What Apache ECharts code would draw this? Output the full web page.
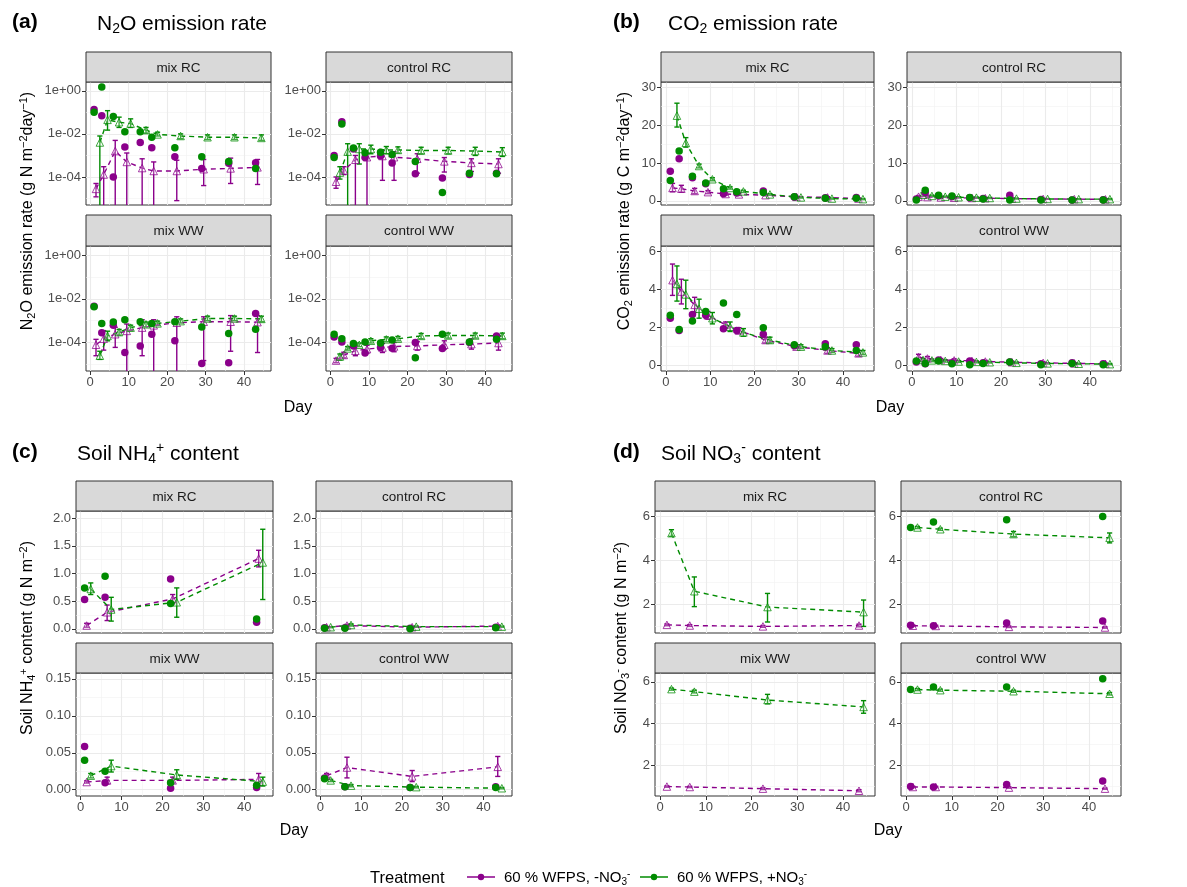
<!DOCTYPE html>
<html><head><meta charset="utf-8">
<script src="https://cdn.jsdelivr.net/npm/echarts@6/dist/echarts.min.js"></script>
<style>html,body{margin:0;padding:0;background:#fff}#chart{width:1187px;height:887px}</style>
</head><body><div id="chart"></div>
<script>
// ================= DATA =================
const flux_days_circle = [1, 3, 6, 9, 13, 16, 22, 29, 36, 43];
const flux_days_minus  = [1.5, 3.5, 6.5, 9.5, 13.5, 16.5, 22.5, 29.5, 36.5, 43.5];
const flux_days_plus   = [2.5, 4.5, 7.5, 10.5, 14.5, 17.5, 23.5, 30.5, 37.5, 44.5];
const soil_days_circle = [1, 6, 22, 43];
const soil_days_minus  = [1.5, 6.5, 22.5, 43.5];
const soil_days_plus   = [2.5, 7.5, 23.5, 44.5];
const x_tick_values = [0, 10, 20, 30, 40];
const x_minor_values = [5, 15, 25, 35, 45];
const facet_names = ['mix RC', 'control RC', 'mix WW', 'control WW'];
const treatment_names = ['60 % WFPS, -NO3-', '60 % WFPS, +NO3-'];

// ---- (a) N2O emission rate, g N m-2 day-1 (0 = lower bound not positive) ----
const n2o_mixRC_circleMinus = [0.137, 0.07, 1.0e-4, 2.5e-3, 4.0e-3, 2.3e-3, 8.7e-4, 2.5e-4, 4.4e-4, 4.6e-4];
const n2o_mixRC_circlePlus  = [0.10, 1.5, 0.065, 0.0126, 0.0126, 7e-3, 2.3e-3, 8.7e-4, 5.3e-4, 2.5e-4];
const n2o_mixRC_meanMinus = [2.8e-5, 1.3e-4, 1.6e-3, 5e-4, 2.6e-4, 1.9e-4, 1.9e-4, 2.3e-4, 2.5e-4, 2.8e-4];
const n2o_mixRC_lowMinus  = [1.2e-5, 0, 0, 0, 0, 0, 8e-6, 4e-5, 5e-5, 4.5e-5];
const n2o_mixRC_highMinus = [5e-5, 3e-4, 5e-3, 1.3e-3, 7e-4, 5e-4, 6e-4, 6.5e-4, 7.5e-4, 6.5e-4];
const n2o_mixRC_meanPlus  = [4e-3, 0.045, 0.035, 0.03, 0.015, 0.0095, 0.008, 0.007, 0.007, 0.0065];
const n2o_mixRC_lowPlus   = [0, 0.015, 0.02, 0.02, 0.011, 0.008, 0.006, 0.0055, 0.0055, 0.005];
const n2o_mixRC_highPlus  = [8e-3, 0.12, 0.06, 0.05, 0.02, 0.012, 0.010, 0.009, 0.009, 0.009];

const n2o_controlRC_circleMinus = [1e-3, 0.037, 2e-3, 8e-4, 9.4e-4, 4.5e-4, 1.4e-4, 9e-5, 1.3e-4, 1.5e-4];
const n2o_controlRC_circlePlus  = [8e-4, 0.029, 2.2e-3, 1.35e-3, 1.4e-3, 1.1e-3, 5.3e-4, 1.9e-5, 1.5e-4, 1.4e-4];
const n2o_controlRC_meanMinus = [6e-5, 2e-4, 6.3e-4, 8.3e-4, 9.4e-4, 8.3e-4, 7e-4, 5.3e-4, 4.5e-4, 4e-4];
const n2o_controlRC_lowMinus  = [3e-5, 1.3e-4, 0, 0, 7e-5, 7e-5, 1.5e-4, 1.7e-4, 1.8e-4, 1.5e-4];
const n2o_controlRC_highMinus = [1e-4, 3e-4, 1.0e-3, 1.2e-3, 1.7e-3, 1.5e-3, 1.2e-3, 8e-4, 7e-4, 7e-4];
const n2o_controlRC_meanPlus  = [1.6e-4, 1.5e-3, 2e-3, 2e-3, 1.8e-3, 1.8e-3, 1.7e-3, 1.7e-3, 1.6e-3, 1.45e-3];
const n2o_controlRC_lowPlus   = [8e-5, 0, 4e-4, 1.2e-3, 1.2e-3, 1.3e-3, 1.2e-3, 1.2e-3, 1.0e-3, 9e-4];
const n2o_controlRC_highPlus  = [3e-4, 3.5e-3, 3.5e-3, 3e-3, 2.6e-3, 2.5e-3, 2.4e-3, 2.4e-3, 2.4e-3, 2.3e-3];

const n2o_mixWW_circleMinus = [4.5e-3, 2.8e-4, 6.1e-4, 3.5e-5, 7e-5, 2.4e-4, 1.2e-4, 1.1e-5, 1.2e-5, 2.1e-3];
const n2o_mixWW_circlePlus  = [4.3e-3, 7.5e-4, 8.7e-4, 1.1e-3, 8.9e-4, 7.5e-4, 8.9e-4, 5.1e-4, 2.6e-4, 4e-4];
const n2o_mixWW_meanMinus = [7.9e-5, 1.5e-4, 2.4e-4, 3.4e-4, 4.8e-4, 6.1e-4, 8e-4, 8.9e-4, 8.9e-4, 8.5e-4];
const n2o_mixWW_lowMinus  = [2.5e-5, 4.5e-5, 6e-5, 0, 2.5e-5, 0, 0, 1.5e-5, 4e-5, 3.5e-5];
const n2o_mixWW_highMinus = [1.4e-4, 3.5e-4, 5e-4, 7e-4, 1.1e-3, 1.1e-3, 1.5e-3, 1.5e-3, 1.7e-3, 1.7e-3];
const n2o_mixWW_meanPlus  = [2.5e-5, 2e-4, 3e-4, 4.8e-4, 6.8e-4, 7.5e-4, 9.5e-4, 1.26e-3, 1.26e-3, 1.2e-3];
const n2o_mixWW_lowPlus   = [1.7e-5, 1.2e-4, 2.2e-4, 3.5e-4, 5.2e-4, 6e-4, 7.8e-4, 1.0e-3, 1.0e-3, 9e-4];
const n2o_mixWW_highPlus  = [4e-5, 3.3e-4, 4e-4, 6.2e-4, 8.6e-4, 9.5e-4, 1.2e-3, 1.6e-3, 1.6e-3, 1.6e-3];

const n2o_controlWW_circleMinus = [1.8e-4, 1.07e-4, 7e-5, 3.3e-5, 5.9e-5, 5.5e-5, 1e-4, 5.4e-5, 1e-4, 2e-4];
const n2o_controlWW_circlePlus  = [2.4e-4, 1.5e-4, 9e-5, 1.07e-4, 9.5e-5, 1.3e-4, 2e-5, 2.4e-4, 1.07e-4, 1.4e-4];
const n2o_controlWW_meanMinus = [1.5e-5, 2.7e-5, 4.2e-5, 5e-5, 5.9e-5, 6.6e-5, 7e-5, 7.9e-5, 8.5e-5, 9.5e-5];
const n2o_controlWW_lowMinus  = [1.2e-5, 2e-5, 2.5e-5, 3.3e-5, 3.5e-5, 3.8e-5, 4.5e-5, 5e-5, 5e-5, 4.5e-5];
const n2o_controlWW_highMinus = [1.9e-5, 3.6e-5, 6.5e-5, 7.5e-5, 9e-5, 1e-4, 1.1e-4, 1.2e-4, 1.5e-4, 1.9e-4];
const n2o_controlWW_meanPlus  = [2.3e-5, 5.4e-5, 7.9e-5, 1.2e-4, 1.4e-4, 1.5e-4, 2e-4, 2.1e-4, 2.1e-4, 2e-4];
const n2o_controlWW_lowPlus   = [1.6e-5, 4.5e-5, 6.5e-5, 9.5e-5, 1.1e-4, 1.2e-4, 1.5e-4, 1.6e-4, 1.6e-4, 1.5e-4];
const n2o_controlWW_highPlus  = [3e-5, 6.5e-5, 9.5e-5, 1.5e-4, 1.8e-4, 1.9e-4, 2.6e-4, 2.7e-4, 2.7e-4, 2.7e-4];

// ---- (b) CO2 emission rate, g C m-2 day-1 ----
const co2_mixRC_circleMinus = [7.8, 11.1, 6.1, 4.5, 1.9, 2.1, 2.6, 1.0, 0.8, 0.85];
const co2_mixRC_circlePlus  = [5.4, 13.2, 6.5, 4.7, 3.2, 2.4, 2.2, 1.05, 0.7, 0.7];
const co2_mixRC_meanMinus = [3.4, 3.2, 2.6, 2.3, 1.8, 1.7, 1.5, 1.05, 0.9, 0.6];
const co2_mixRC_lowMinus  = [2.4, 2.3, 1.9, 1.9, 1.5, 1.4, 1.3, 0.9, 0.7, 0.45];
const co2_mixRC_highMinus = [4.6, 4.1, 3.3, 2.7, 2.1, 2.0, 1.7, 1.2, 1.1, 0.75];
const co2_mixRC_meanPlus  = [22.5, 15.3, 9.2, 5.7, 3.4, 2.5, 1.7, 0.9, 0.6, 0.45];
const co2_mixRC_lowPlus   = [19.5, 14.2, 8.7, 5.3, 3.1, 2.2, 1.5, 0.75, 0.45, 0.3];
const co2_mixRC_highPlus  = [25.8, 16.7, 9.7, 6.1, 3.7, 2.8, 1.9, 1.05, 0.75, 0.6];

const co2_controlRC_circleMinus = [0.5, 2.2, 1.3, 1.05, 0.8, 0.6, 1.5, 0.35, 0.25, 0.3];
const co2_controlRC_circlePlus  = [0.2, 2.8, 1.5, 1.3, 0.9, 0.5, 0.2, 0.2, 0.2, 0.2];
const co2_controlRC_meanMinus = [1.1, 1.0, 0.9, 0.8, 0.75, 0.7, 0.6, 0.5, 0.45, 0.4];
const co2_controlRC_lowMinus  = [0.8, 0.75, 0.7, 0.65, 0.6, 0.55, 0.45, 0.4, 0.35, 0.3];
const co2_controlRC_highMinus = [1.4, 1.25, 1.1, 0.95, 0.9, 0.85, 0.75, 0.6, 0.55, 0.5];
const co2_controlRC_meanPlus  = [1.6, 1.3, 1.1, 0.95, 0.85, 0.75, 0.6, 0.5, 0.45, 0.45];
const co2_controlRC_lowPlus   = [1.2, 1.1, 0.95, 0.8, 0.7, 0.6, 0.5, 0.4, 0.35, 0.3];
const co2_controlRC_highPlus  = [2.1, 1.5, 1.25, 1.1, 1.0, 0.9, 0.7, 0.6, 0.55, 0.6];

const co2_mixWW_circleMinus = [2.5, 1.85, 2.7, 2.65, 1.95, 1.85, 1.65, 1.05, 1.15, 1.1];
const co2_mixWW_circlePlus  = [2.65, 1.9, 2.35, 2.85, 3.3, 2.7, 2.0, 1.1, 1.0, 0.8];
const co2_mixWW_meanMinus = [4.5, 3.9, 3.2, 2.65, 2.15, 1.85, 1.35, 1.0, 0.8, 0.65];
const co2_mixWW_lowMinus  = [3.7, 3.25, 2.8, 2.45, 2.0, 1.7, 1.2, 0.9, 0.65, 0.5];
const co2_mixWW_highMinus = [5.35, 4.55, 3.6, 2.85, 2.3, 2.0, 1.5, 1.1, 0.95, 0.8];
const co2_mixWW_meanPlus  = [4.3, 3.75, 3.0, 2.5, 2.05, 1.75, 1.35, 1.0, 0.8, 0.7];
const co2_mixWW_lowPlus   = [3.4, 3.0, 2.5, 2.2, 1.8, 1.55, 1.2, 0.9, 0.7, 0.6];
const co2_mixWW_highPlus  = [5.25, 4.5, 3.5, 2.8, 2.3, 1.95, 1.5, 1.1, 0.9, 0.8];

const co2_controlWW_circleMinus = [0.2, 0.1, 0.3, 0.15, 0.25, 0.15, 0.2, 0.1, 0.15, 0.1];
const co2_controlWW_circlePlus  = [0.25, 0.12, 0.25, 0.1, 0.05, 0.12, 0.2, 0.05, 0.12, 0.05];
const co2_controlWW_meanMinus = [0.45, 0.38, 0.3, 0.28, 0.25, 0.22, 0.18, 0.15, 0.12, 0.1];
const co2_controlWW_lowMinus  = [0.3, 0.28, 0.22, 0.2, 0.18, 0.16, 0.13, 0.1, 0.08, 0.06];
const co2_controlWW_highMinus = [0.6, 0.48, 0.38, 0.36, 0.32, 0.28, 0.23, 0.2, 0.16, 0.14];
const co2_controlWW_meanPlus  = [0.3, 0.28, 0.25, 0.22, 0.2, 0.18, 0.15, 0.12, 0.1, 0.08];
const co2_controlWW_lowPlus   = [0.22, 0.21, 0.19, 0.17, 0.15, 0.14, 0.11, 0.09, 0.07, 0.05];
const co2_controlWW_highPlus  = [0.38, 0.35, 0.31, 0.27, 0.25, 0.22, 0.19, 0.15, 0.13, 0.11];

// ---- (c) Soil NH4+ content, g N m-2 ----
const nh4_mixRC_circleMinus = [0.53, 0.57, 0.9, 0.12];
const nh4_mixRC_circlePlus  = [0.74, 0.95, 0.46, 0.18];
const nh4_mixRC_meanMinus = [0.06, 0.3, 0.54, 1.27];
const nh4_mixRC_lowMinus  = [0.03, 0.15, 0.45, 1.12];
const nh4_mixRC_highMinus = [0.1, 0.43, 0.62, 1.42];
const nh4_mixRC_meanPlus  = [0.72, 0.35, 0.48, 1.2];
const nh4_mixRC_lowPlus   = [0.62, 0.14, 0.21, 0.53];
const nh4_mixRC_highPlus  = [0.83, 0.57, 0.74, 1.8];

const nh4_controlRC_circleMinus = [0.02, 0.02, 0.01, 0.03];
const nh4_controlRC_circlePlus  = [0.01, 0.01, 0.0, 0.02];
const nh4_controlRC_meanMinus = [0.03, 0.06, 0.03, 0.05];
const nh4_controlRC_lowMinus  = [0.02, 0.04, 0.02, 0.03];
const nh4_controlRC_highMinus = [0.04, 0.08, 0.04, 0.07];
const nh4_controlRC_meanPlus  = [0.03, 0.07, 0.04, 0.04];
const nh4_controlRC_lowPlus   = [0.02, 0.05, 0.03, 0.03];
const nh4_controlRC_highPlus  = [0.04, 0.09, 0.05, 0.05];

const nh4_mixWW_circleMinus = [0.0586, 0.0095, 0.002, 0.003];
const nh4_mixWW_circlePlus  = [0.04, 0.025, 0.0095, 0.006];
const nh4_mixWW_meanMinus = [0.0104, 0.0126, 0.0126, 0.014];
const nh4_mixWW_lowMinus  = [0.009, 0.008, 0.009, 0.006];
const nh4_mixWW_highMinus = [0.012, 0.017, 0.017, 0.022];
const nh4_mixWW_meanPlus  = [0.019, 0.032, 0.02, 0.011];
const nh4_mixWW_lowPlus   = [0.016, 0.024, 0.014, 0.005];
const nh4_mixWW_highPlus  = [0.022, 0.04, 0.027, 0.017];

const nh4_controlWW_circleMinus = [0.016, 0.004, 0.003, 0.004];
const nh4_controlWW_circlePlus  = [0.015, 0.004, 0.003, 0.003];
const nh4_controlWW_meanMinus = [0.019, 0.03, 0.018, 0.031];
const nh4_controlWW_lowMinus  = [0.016, 0.016, 0.011, 0.018];
const nh4_controlWW_highMinus = [0.022, 0.044, 0.026, 0.045];
const nh4_controlWW_meanPlus  = [0.0126, 0.0055, 0.0035, 0.002];
const nh4_controlWW_lowPlus   = [0.011, 0.004, 0.0025, 0.0012];
const nh4_controlWW_highPlus  = [0.014, 0.007, 0.0045, 0.003];

// ---- (d) Soil NO3- content, g N m-2 ----
const no3_mixRC_circleMinus = [];
const no3_mixRC_circlePlus  = [];
const no3_mixRC_meanMinus = [1.07, 1.04, 1.0, 1.04];
const no3_mixRC_lowMinus  = [1.03, 1.0, 0.96, 0.98];
const no3_mixRC_highMinus = [1.11, 1.08, 1.04, 1.1];
const no3_mixRC_meanPlus  = [5.24, 2.6, 1.88, 1.65];
const no3_mixRC_lowPlus   = [5.1, 1.9, 1.2, 1.0];
const no3_mixRC_highPlus  = [5.4, 3.25, 2.5, 2.2];

const no3_controlRC_circleMinus = [1.05, 1.03, 1.15, 1.25];
const no3_controlRC_circlePlus  = [5.5, 5.75, 5.85, 6.0];
const no3_controlRC_meanMinus = [1.03, 1.02, 0.98, 0.95];
const no3_controlRC_lowMinus  = [1.0, 0.99, 0.95, 0.92];
const no3_controlRC_highMinus = [1.06, 1.05, 1.01, 0.98];
const no3_controlRC_meanPlus  = [5.5, 5.42, 5.2, 5.03];
const no3_controlRC_lowPlus   = [5.45, 5.37, 5.08, 4.8];
const no3_controlRC_highPlus  = [5.55, 5.47, 5.32, 5.25];

const no3_mixWW_circleMinus = [];
const no3_mixWW_circlePlus  = [];
const no3_mixWW_meanMinus = [1.0, 0.98, 0.9, 0.8];
const no3_mixWW_lowMinus  = [0.97, 0.95, 0.86, 0.75];
const no3_mixWW_highMinus = [1.03, 1.01, 0.94, 0.85];
const no3_mixWW_meanPlus  = [5.65, 5.53, 5.13, 4.8];
const no3_mixWW_lowPlus   = [5.6, 5.47, 4.95, 4.5];
const no3_mixWW_highPlus  = [5.7, 5.6, 5.4, 5.1];

const no3_controlWW_circleMinus = [1.0, 0.98, 1.1, 1.27];
const no3_controlWW_circlePlus  = [5.63, 5.75, 5.75, 6.14];
const no3_controlWW_meanMinus = [0.98, 0.98, 0.95, 0.9];
const no3_controlWW_lowMinus  = [0.95, 0.95, 0.92, 0.87];
const no3_controlWW_highMinus = [1.01, 1.01, 0.98, 0.93];
const no3_controlWW_meanPlus  = [5.63, 5.6, 5.55, 5.43];
const no3_controlWW_lowPlus   = [5.58, 5.55, 5.5, 5.37];
const no3_controlWW_highPlus  = [5.68, 5.65, 5.6, 5.49];

// ---- y-axis tick values ----
const n2o_ticks = [-4, -2, 0];          // log10 exponents: 1e-04, 1e-02, 1e+00
const n2o_minor = [-5, -3, -1];
const co2_top_ticks = [0, 10, 20, 30];  const co2_top_minor = [5, 15, 25];
const co2_bot_ticks = [0, 2, 4, 6];     const co2_bot_minor = [1, 3, 5];
const nh4_top_ticks = [0, 0.5, 1, 1.5, 2]; const nh4_top_minor = [0.25, 0.75, 1.25, 1.75];
const nh4_bot_ticks = [0, 0.05, 0.1, 0.15]; const nh4_bot_minor = [0.025, 0.075, 0.125];
const no3_ticks = [2, 4, 6];            const no3_minor = [1, 3, 5];

// ================= LAYOUT / STYLE =================
const FONT = '"Liberation Sans", Arial, Helvetica, sans-serif';
const C_MINUS = '#8B008B', C_PLUS = '#008B00';
const X_MIN = -1.1, X_MAX = 47.0;
const ROWS_AB = [{strip: 52, top: 82, bottom: 205}, {strip: 215, top: 246, bottom: 371}];
const ROWS_CD = [{strip: 481, top: 511, bottom: 633}, {strip: 643, top: 673, bottom: 796}];
const COLS = {A: [[86, 271], [326, 512]], B: [[661, 874], [907, 1121]], C: [[76, 273], [316, 512]], D: [[655, 875], [901, 1121]]};

const fmtLog = v => '1e' + (v < 0 ? '-' : '+') + String(Math.abs(v)).padStart(2, '0');
const groups = [
  {key: 'A', prefix: 'n2o', rows: ROWS_AB, log: true, flux: true,
   yRange: [[-5.3, 0.41], [-5.3, 0.41]], ticks: [n2o_ticks, n2o_ticks], minor: [n2o_minor, n2o_minor], fmt: [fmtLog, fmtLog]},
  {key: 'B', prefix: 'co2', rows: ROWS_AB, log: false, flux: true,
   yRange: [[-1.1, 31.4], [-0.28, 6.3]], ticks: [co2_top_ticks, co2_bot_ticks], minor: [co2_top_minor, co2_bot_minor], fmt: [v => String(v), v => String(v)]},
  {key: 'C', prefix: 'nh4', rows: ROWS_CD, log: false, flux: false,
   yRange: [[-0.075, 2.13], [-0.0085, 0.158]], ticks: [nh4_top_ticks, nh4_bot_ticks], minor: [nh4_top_minor, nh4_bot_minor], fmt: [v => v.toFixed(1), v => v.toFixed(2)]},
  {key: 'D', prefix: 'no3', rows: ROWS_CD, log: false, flux: false,
   yRange: [[0.7, 6.25], [0.55, 6.42]], ticks: [no3_ticks, no3_ticks], minor: [no3_minor, no3_minor], fmt: [v => String(v), v => String(v)]}
];
const DATA = {
  n2o: {mixRC: [n2o_mixRC_circleMinus, n2o_mixRC_circlePlus, n2o_mixRC_meanMinus, n2o_mixRC_lowMinus, n2o_mixRC_highMinus, n2o_mixRC_meanPlus, n2o_mixRC_lowPlus, n2o_mixRC_highPlus],
        controlRC: [n2o_controlRC_circleMinus, n2o_controlRC_circlePlus, n2o_controlRC_meanMinus, n2o_controlRC_lowMinus, n2o_controlRC_highMinus, n2o_controlRC_meanPlus, n2o_controlRC_lowPlus, n2o_controlRC_highPlus],
        mixWW: [n2o_mixWW_circleMinus, n2o_mixWW_circlePlus, n2o_mixWW_meanMinus, n2o_mixWW_lowMinus, n2o_mixWW_highMinus, n2o_mixWW_meanPlus, n2o_mixWW_lowPlus, n2o_mixWW_highPlus],
        controlWW: [n2o_controlWW_circleMinus, n2o_controlWW_circlePlus, n2o_controlWW_meanMinus, n2o_controlWW_lowMinus, n2o_controlWW_highMinus, n2o_controlWW_meanPlus, n2o_controlWW_lowPlus, n2o_controlWW_highPlus]},
  co2: {mixRC: [co2_mixRC_circleMinus, co2_mixRC_circlePlus, co2_mixRC_meanMinus, co2_mixRC_lowMinus, co2_mixRC_highMinus, co2_mixRC_meanPlus, co2_mixRC_lowPlus, co2_mixRC_highPlus],
        controlRC: [co2_controlRC_circleMinus, co2_controlRC_circlePlus, co2_controlRC_meanMinus, co2_controlRC_lowMinus, co2_controlRC_highMinus, co2_controlRC_meanPlus, co2_controlRC_lowPlus, co2_controlRC_highPlus],
        mixWW: [co2_mixWW_circleMinus, co2_mixWW_circlePlus, co2_mixWW_meanMinus, co2_mixWW_lowMinus, co2_mixWW_highMinus, co2_mixWW_meanPlus, co2_mixWW_lowPlus, co2_mixWW_highPlus],
        controlWW: [co2_controlWW_circleMinus, co2_controlWW_circlePlus, co2_controlWW_meanMinus, co2_controlWW_lowMinus, co2_controlWW_highMinus, co2_controlWW_meanPlus, co2_controlWW_lowPlus, co2_controlWW_highPlus]},
  nh4: {mixRC: [nh4_mixRC_circleMinus, nh4_mixRC_circlePlus, nh4_mixRC_meanMinus, nh4_mixRC_lowMinus, nh4_mixRC_highMinus, nh4_mixRC_meanPlus, nh4_mixRC_lowPlus, nh4_mixRC_highPlus],
        controlRC: [nh4_controlRC_circleMinus, nh4_controlRC_circlePlus, nh4_controlRC_meanMinus, nh4_controlRC_lowMinus, nh4_controlRC_highMinus, nh4_controlRC_meanPlus, nh4_controlRC_lowPlus, nh4_controlRC_highPlus],
        mixWW: [nh4_mixWW_circleMinus, nh4_mixWW_circlePlus, nh4_mixWW_meanMinus, nh4_mixWW_lowMinus, nh4_mixWW_highMinus, nh4_mixWW_meanPlus, nh4_mixWW_lowPlus, nh4_mixWW_highPlus],
        controlWW: [nh4_controlWW_circleMinus, nh4_controlWW_circlePlus, nh4_controlWW_meanMinus, nh4_controlWW_lowMinus, nh4_controlWW_highMinus, nh4_controlWW_meanPlus, nh4_controlWW_lowPlus, nh4_controlWW_highPlus]},
  no3: {mixRC: [no3_mixRC_circleMinus, no3_mixRC_circlePlus, no3_mixRC_meanMinus, no3_mixRC_lowMinus, no3_mixRC_highMinus, no3_mixRC_meanPlus, no3_mixRC_lowPlus, no3_mixRC_highPlus],
        controlRC: [no3_controlRC_circleMinus, no3_controlRC_circlePlus, no3_controlRC_meanMinus, no3_controlRC_lowMinus, no3_controlRC_highMinus, no3_controlRC_meanPlus, no3_controlRC_lowPlus, no3_controlRC_highPlus],
        mixWW: [no3_mixWW_circleMinus, no3_mixWW_circlePlus, no3_mixWW_meanMinus, no3_mixWW_lowMinus, no3_mixWW_highMinus, no3_mixWW_meanPlus, no3_mixWW_lowPlus, no3_mixWW_highPlus],
        controlWW: [no3_controlWW_circleMinus, no3_controlWW_circlePlus, no3_controlWW_meanMinus, no3_controlWW_lowMinus, no3_controlWW_highMinus, no3_controlWW_meanPlus, no3_controlWW_lowPlus, no3_controlWW_highPlus]}
};
const FACET_KEYS = ['mixRC', 'controlRC', 'mixWW', 'controlWW'];

// ================= BUILD OPTION =================
const grid = [], xAxis = [], yAxis = [], series = [], graphic = [];
const AXIS_LABEL = {color: '#4D4D4D', fontSize: 13, fontFamily: FONT};
const NO_LINE = {show: false, onZero: false};

function errRender(color) {
  return function (params, api) {
    const x = api.value(0);
    const pLo = api.coord([x, api.value(1)]);
    const pHi = api.coord([x, api.value(2)]);
    const capLow = api.value(3) === 1;
    const cs = params.coordSys;
    const yT = Math.max(cs.y, Math.min(pLo[1], pHi[1]));
    const yB = Math.min(cs.y + cs.height, Math.max(pLo[1], pHi[1]));
    const st = {stroke: color, lineWidth: 1.4};
    const ch = [{type: 'line', shape: {x1: pLo[0], y1: yT, x2: pLo[0], y2: yB}, style: st}];
    const w = 2.6;
    if (pHi[1] >= cs.y) ch.push({type: 'line', shape: {x1: pHi[0] - w, y1: pHi[1], x2: pHi[0] + w, y2: pHi[1]}, style: st});
    if (capLow && pLo[1] <= cs.y + cs.height) ch.push({type: 'line', shape: {x1: pLo[0] - w, y1: pLo[1], x2: pLo[0] + w, y2: pLo[1]}, style: st});
    return {type: 'group', children: ch};
  };
}

let gi = 0;
groups.forEach(g => {
  FACET_KEYS.forEach((fk, fi) => {
    const col = fi % 2, row = Math.floor(fi / 2);
    const [L, R] = COLS[g.key][col];
    const rw = g.rows[row];
    const yr = g.yRange[row];
    const bottomRow = row === 1;
    grid.push({left: L, top: rw.top, width: R - L, height: rw.bottom - rw.top, show: true,
      borderColor: '#333333', borderWidth: 1, backgroundColor: '#ffffff', containLabel: false});
    // major x
    xAxis.push({type: 'value', gridIndex: gi, min: X_MIN, max: X_MAX, position: 'bottom',
      axisLine: NO_LINE,
      axisTick: {show: bottomRow, length: 4, inside: false, lineStyle: {color: '#333333'}, customValues: x_tick_values},
      axisLabel: Object.assign({show: bottomRow, customValues: x_tick_values, margin: 5}, AXIS_LABEL),
      splitLine: {show: true, lineStyle: {color: '#EBEBEB', width: 1.1}}, z: 1});
    // minor x
    xAxis.push({type: 'value', gridIndex: gi, min: X_MIN, max: X_MAX, position: 'bottom',
      axisLine: NO_LINE, axisTick: {show: false, customValues: x_minor_values},
      axisLabel: {show: false, customValues: x_minor_values},
      splitLine: {show: true, lineStyle: {color: '#F1F1F1', width: 0.6}}, z: 0});
    // major y
    yAxis.push({type: 'value', gridIndex: gi, min: yr[0], max: yr[1], position: 'left',
      axisLine: NO_LINE,
      axisTick: {show: true, length: 4, lineStyle: {color: '#333333'}, customValues: g.ticks[row]},
      axisLabel: Object.assign({show: true, customValues: g.ticks[row], margin: 5, formatter: g.fmt[row]}, AXIS_LABEL),
      splitLine: {show: true, lineStyle: {color: '#EBEBEB', width: 1.1}}, z: 1});
    // minor y
    yAxis.push({type: 'value', gridIndex: gi, min: yr[0], max: yr[1], position: 'left',
      axisLine: NO_LINE, axisTick: {show: false, customValues: g.minor[row]},
      axisLabel: {show: false, customValues: g.minor[row]},
      splitLine: {show: true, lineStyle: {color: '#F1F1F1', width: 0.6}}, z: 0});

    const tf = g.log ? (v => (v > 0 ? Math.log10(v) : yr[0])) : (v => v);
    const d = DATA[g.prefix][fk];
    const dc = g.flux ? flux_days_circle : soil_days_circle;
    const dm = g.flux ? flux_days_minus : soil_days_minus;
    const dp = g.flux ? flux_days_plus : soil_days_plus;
    const ax = {xAxisIndex: 2 * gi, yAxisIndex: 2 * gi};

    [[dm, d[2], d[3], d[4], C_MINUS], [dp, d[5], d[6], d[7], C_PLUS]].forEach(([days, mean, lo, hi, color]) => {
      series.push(Object.assign({type: 'custom', renderItem: errRender(color), silent: true, z: 3,
        dimensions: ['x', 'lo', 'hi', 'cap'], encode: {x: 0, y: [1, 2]},
        data: days.map((x, i) => [x, tf(lo[i]), tf(hi[i]), (g.log && !(lo[i] > 0)) ? 0 : 1])}, ax));
      series.push(Object.assign({type: 'line', z: 4, silent: true, animation: false,
        data: days.map((x, i) => [x, tf(mean[i])]),
        symbol: 'triangle', symbolSize: 7.5, showSymbol: true,
        lineStyle: {color: color, width: 1.4, type: [5, 4]},
        itemStyle: {color: 'rgba(255,255,255,0.35)', borderColor: color, borderWidth: 1, opacity: 0.75}}, ax));
    });
    [[d[0], C_MINUS], [d[1], C_PLUS]].forEach(([vals, color]) => {
      if (!vals.length) return;
      series.push(Object.assign({type: 'scatter', z: 5, silent: true, animation: false,
        data: dc.map((x, i) => [x, tf(vals[i])]),
        symbol: 'circle', symbolSize: 7.5, itemStyle: {color: color, opacity: 1}}, ax));
    });

    // facet strip
    graphic.push({type: 'rect', shape: {x: L, y: rw.strip, width: R - L, height: rw.top - rw.strip},
      style: {fill: '#D9D9D9', stroke: '#333333', lineWidth: 1}, z: 10, silent: true});
    graphic.push({type: 'text', x: (L + R) / 2, y: (rw.strip + rw.top) / 2 + 1, z: 11, silent: true,
      style: {text: facet_names[fi], fill: '#1A1A1A', font: '13.5px ' + FONT, align: 'center', verticalAlign: 'middle'}});
    gi++;
  });
});

// ---- titles ----
function richStyle(text, size, extra) {
  return Object.assign({text: text, fontSize: size, fontFamily: FONT, fill: '#000', lineHeight: size * 1.2,
    rich: {
      sub: {fontSize: Math.round(size * 0.68), fontFamily: FONT, fill: '#000', verticalAlign: 'bottom', lineHeight: size * 1.2},
      sup: {fontSize: Math.round(size * 0.68), fontFamily: FONT, fill: '#000', verticalAlign: 'top', lineHeight: size * 1.2}
    }}, extra || {});
}
const panelTitles = [
  ['(a)', 12, 22, 'N{sub|2}O emission rate', 97],
  ['(b)', 613, 22, 'CO{sub|2} emission rate', 668],
  ['(c)', 12, 452, 'Soil NH{sub|4}{sup|+} content', 77],
  ['(d)', 613, 452, 'Soil NO{sub|3}{sup|-} content', 661]
];
panelTitles.forEach(([lab, x, y, t, tx]) => {
  graphic.push({type: 'text', x: x, y: y, silent: true,
    style: {text: lab, font: 'bold 21px ' + FONT, fill: '#000', verticalAlign: 'middle'}});
  graphic.push({type: 'text', x: tx, y: y + 2, silent: true,
    style: richStyle(t, 21, {verticalAlign: 'middle'})});
});
const yTitles = [
  ['N{sub|2}O emission rate (g N m{sup|−2}day{sup|−1})', 28, 211],
  ['CO{sub|2} emission rate (g C m{sup|−2}day{sup|−1})', 625, 211],
  ['Soil NH{sub|4}{sup|+} content (g N m{sup|−2})', 28, 638],
  ['Soil NO{sub|3}{sup|-} content (g N m{sup|−2})', 622, 638]
];
yTitles.forEach(([t, x, y]) => {
  graphic.push({type: 'text', x: x, y: y, rotation: Math.PI / 2, silent: true,
    style: richStyle(t, 16, {align: 'center', verticalAlign: 'middle'})});
});
[[298, 408], [890, 408], [294, 831], [888, 831]].forEach(([x, y]) => {
  graphic.push({type: 'text', x: x, y: y, silent: true,
    style: {text: 'Day', font: '16px ' + FONT, fill: '#000', align: 'center', verticalAlign: 'middle'}});
});

// ---- legend ----
graphic.push({type: 'text', x: 370, y: 878, silent: true,
  style: {text: 'Treatment', font: '16.5px ' + FONT, fill: '#000', verticalAlign: 'middle'}});
[[467, C_MINUS, '60 % WFPS, -NO{sub|3}{sup|-}'], [640, C_PLUS, '60 % WFPS, +NO{sub|3}{sup|-}']].forEach(([x, c, t]) => {
  graphic.push({type: 'line', shape: {x1: x, y1: 877, x2: x + 28, y2: 877}, style: {stroke: c, lineWidth: 1.5}, silent: true});
  graphic.push({type: 'circle', shape: {cx: x + 14, cy: 877, r: 3.2}, style: {fill: c}, silent: true});
  graphic.push({type: 'text', x: x + 37, y: 878, silent: true, style: richStyle(t, 15, {verticalAlign: 'middle'})});
});

const chart = echarts.init(document.getElementById('chart'), null, {renderer: 'canvas'});
chart.setOption({animation: false, backgroundColor: '#ffffff', grid, xAxis, yAxis, series, graphic});
</script>
</body></html>
